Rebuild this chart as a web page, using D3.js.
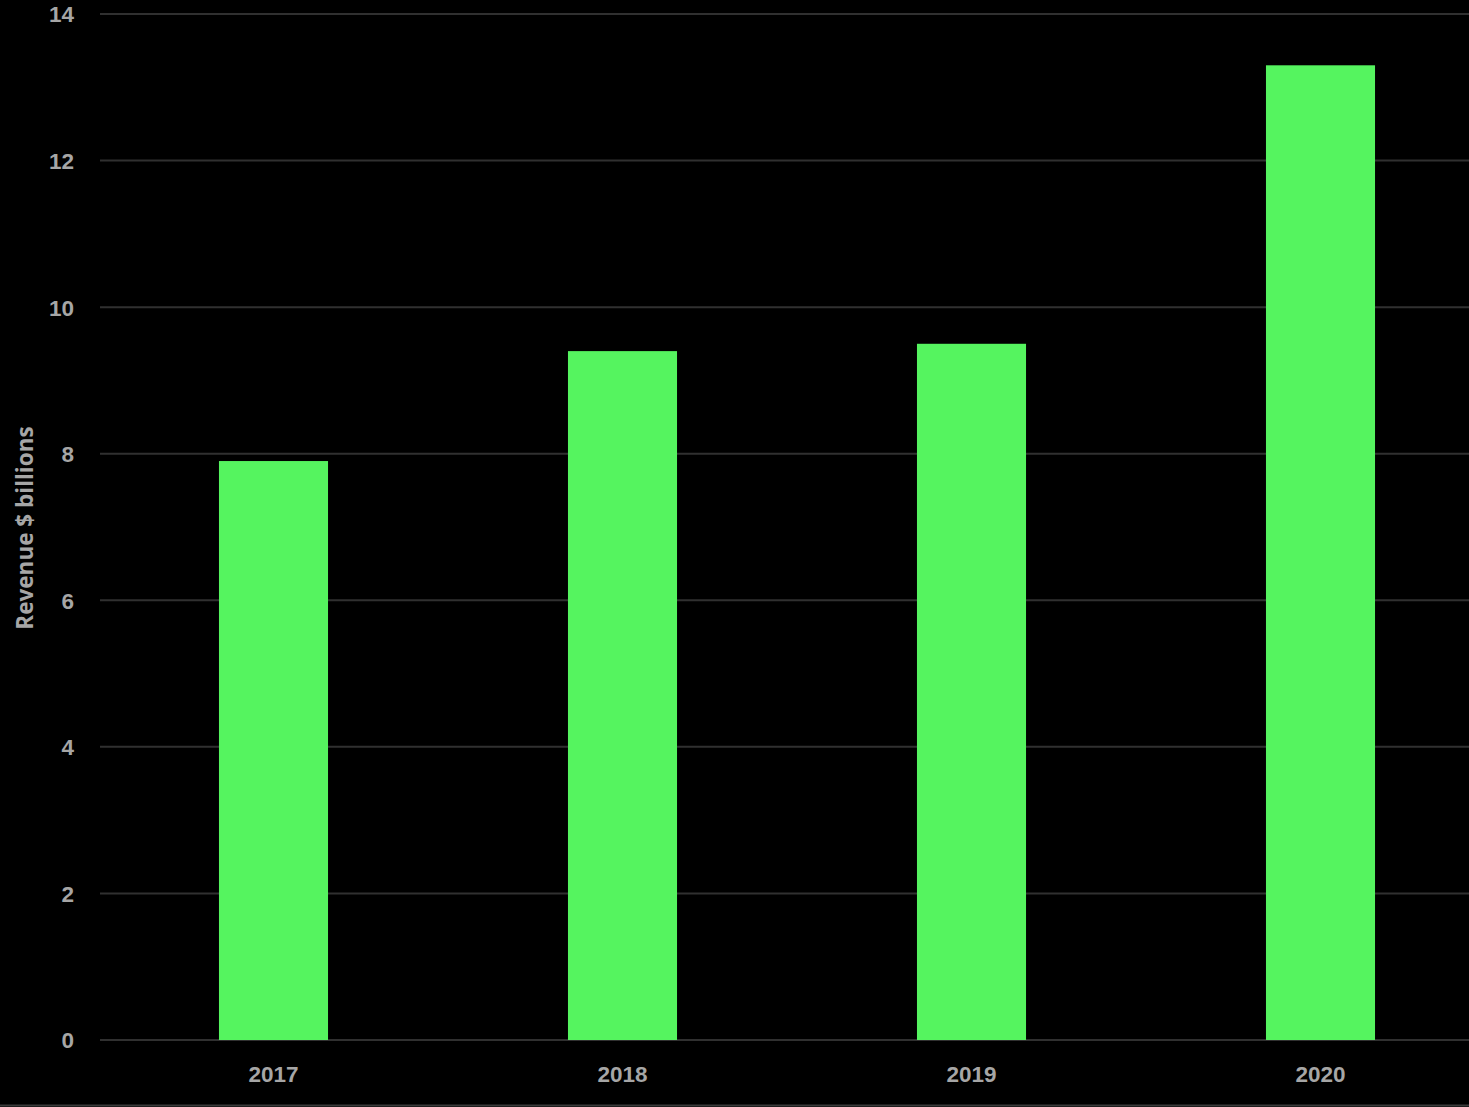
<!DOCTYPE html>
<html lang="en">
<head>
<meta charset="UTF-8">
<title>Revenue $ billions</title>
<style>
    html, body { margin: 0; padding: 0; background: #000; overflow: hidden; }
    body { font-family: "Open Sans", "Liberation Sans", sans-serif; }
    .axis text { fill: #a6a6a6; font-weight: bold; font-size: 22.5px; }
</style>
</head>
<body>
<script src="https://cdn.jsdelivr.net/npm/d3@7/dist/d3.min.js"></script>
<script>

var years = ["2017", "2018", "2019", "2020"];
var revenue = [7.9, 9.4, 9.5, 13.3];
var yTicks = [0, 2, 4, 6, 8, 10, 12, 14];

var W = 1469, H = 1107;
var margin = { top: 14, right: -26, bottom: 67, left: 99 };
var width = W - margin.left - margin.right,
    height = H - margin.top - margin.bottom;

var svg = d3.select("body").append("svg")
    .attr("width", W)
    .attr("height", H);

svg.append("rect")
    .attr("width", W).attr("height", H)
    .attr("fill", "#000");

// thin border line at bottom of the picture
svg.append("line")
    .attr("x1", 0).attr("x2", W)
    .attr("y1", H - 1.5).attr("y2", H - 1.5)
    .attr("stroke", "#3a3a3a")
    .attr("stroke-width", 2);

var g = svg.append("g")
    .attr("transform", "translate(" + margin.left + "," + margin.top + ")");

var x = d3.scaleBand()
    .domain(years)
    .range([0, width])
    .paddingInner(0.6875)
    .paddingOuter(0.34375);

var y = d3.scaleLinear()
    .domain([0, 14])
    .range([height, 0]);

// gridlines
g.selectAll(".grid")
    .data(yTicks)
  .enter().append("line")
    .attr("class", "grid")
    .attr("x1", 1)
    .attr("x2", width)
    .attr("y1", function(d) { return y(d); })
    .attr("y2", function(d) { return y(d); })
    .attr("stroke", "#303030")
    .attr("stroke-width", 2);

// bars
g.selectAll(".bar")
    .data(revenue)
  .enter().append("rect")
    .attr("class", "bar")
    .attr("x", function(d, i) { return x(years[i]); })
    .attr("width", x.bandwidth())
    .attr("y", function(d) { return y(d); })
    .attr("height", function(d) { return y(0) - y(d); })
    .attr("fill", "#55f45f");

// y axis
var yAxis = g.append("g")
    .attr("class", "y axis")
    .call(d3.axisLeft(y).tickValues(yTicks).tickSize(0).tickPadding(25));
yAxis.select(".domain").remove();
yAxis.selectAll("text").attr("dy", "0.35em");

// x axis
var xAxis = g.append("g")
    .attr("class", "x axis")
    .attr("transform", "translate(0," + height + ")")
    .call(d3.axisBottom(x).tickSize(0).tickPadding(26));
xAxis.select(".domain").remove();

// y title
svg.append("text")
    .attr("transform", "translate(33," + (margin.top + y(7) + 1) + ") rotate(-90)")
    .attr("text-anchor", "middle")
    .attr("fill", "#a6a6a6")
    .style("font-weight", "bold")
    .style("font-size", "22.5px")
    .text("Revenue $ billions");

</script>
</body>
</html>
